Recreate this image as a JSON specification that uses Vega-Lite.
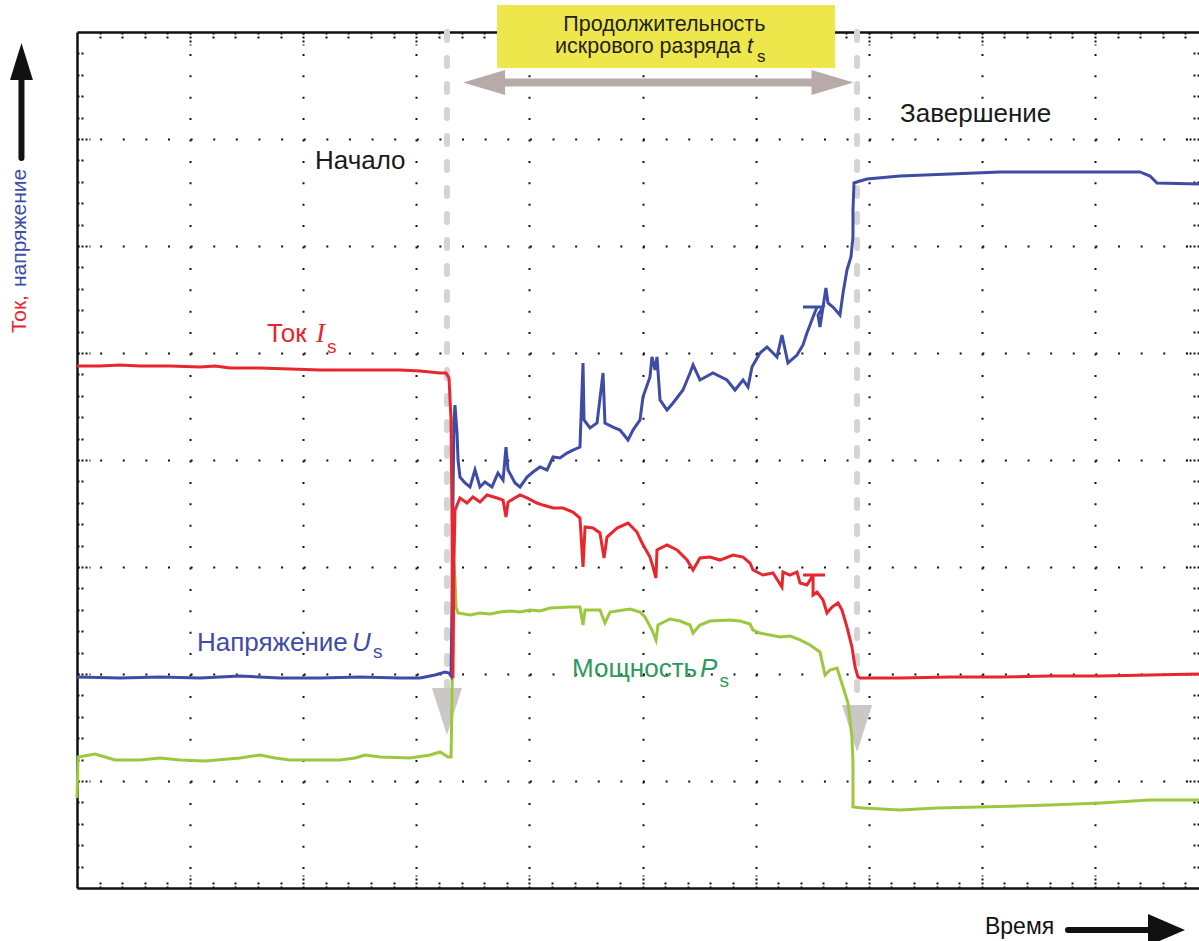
{
  "$schema": "https://vega.github.io/schema/vega-lite/v6.json",
  "width": 1122,
  "height": 856,
  "autosize": {"type": "none"},
  "padding": {"left": 77, "top": 32, "right": 0, "bottom": 53},
  "background": "white",
  "config": {"view": {"stroke": null}, "font": "Liberation Sans"},
  "resolve": {"axis": {"x": "independent", "y": "independent"}},
  "layer": [
    {
      "data": {"values": [{"t": 3.271, "v": 8.0, "v2": 1.85}, {"t": 6.897, "v": 8.0, "v2": 1.71}]},
      "mark": {"type": "rule", "color": "#d6d3d3", "strokeWidth": 6, "strokeDash": [8, 18], "strokeCap": "round"},
      "encoding": {
        "x": {"field": "t", "type": "quantitative", "scale": {"domain": [0, 9.9204], "nice": false, "zero": false},
          "axis": {"orient": "top", "title": null, "labels": false, "grid": false, "domain": true, "domainColor": "#111", "domainWidth": 2.5,
            "ticks": true, "tickColor": "#111", "tickWidth": 2, "tickDash": [2, 2],
            "tickSize": {"condition": {"test": "abs(datum.value - round(datum.value)) < 0.01", "value": -13}, "value": -8},
            "values": [0.2,0.4,0.6,0.8,1,1.2,1.4,1.6,1.8,2,2.2,2.4,2.6,2.8,3,3.2,3.4,3.6,3.8,4,4.2,4.4,4.6,4.8,5,5.2,5.4,5.6,5.8,6,6.2,6.4,6.6,6.8,7,7.2,7.4,7.6,7.8,8,8.2,8.4,8.6,8.8,9,9.2,9.4,9.6,9.8]}},
        "y": {"field": "v", "type": "quantitative", "scale": {"domain": [0, 8], "nice": false, "zero": false},
          "axis": {"orient": "right", "title": null, "labels": false, "grid": false, "domain": false,
            "ticks": true, "tickColor": "#111", "tickWidth": 2, "tickDash": [2, 2],
            "tickSize": {"condition": {"test": "abs(datum.value - round(datum.value)) < 0.01", "value": -13}, "value": -8},
            "values": [0.2,0.4,0.6,0.8,1,1.2,1.4,1.6,1.8,2,2.2,2.4,2.6,2.8,3,3.2,3.4,3.6,3.8,4,4.2,4.4,4.6,4.8,5,5.2,5.4,5.6,5.8,6,6.2,6.4,6.6,6.8,7,7.2,7.4,7.6,7.8]}},
        "y2": {"field": "v2"}
      }
    },
    {
      "data": {"values": [{"t": 3.271, "v": 1.650}, {"t": 6.897, "v": 1.491}]},
      "mark": {"type": "point", "shape": "M-0.64,-1L0.64,-1L0,1Z", "filled": true, "color": "#cbc7c7", "opacity": 1, "size": 2209, "strokeWidth": 0},
      "encoding": {
        "x": {"field": "t", "type": "quantitative", "axis": null},
        "y": {"field": "v", "type": "quantitative", "axis": null}
      }
    },
    {
      "data": {"values": [
        {"s":"P","t":0,"v":0.841},{"s":"P","t":0.009,"v":1.224},{"s":"P","t":0.159,"v":1.252},{"s":"P","t":0.248,"v":1.224},{"s":"P","t":0.336,"v":1.196},{"s":"P","t":0.557,"v":1.196},{"s":"P","t":0.734,"v":1.215},{"s":"P","t":0.911,"v":1.196},{"s":"P","t":1.132,"v":1.187},{"s":"P","t":1.441,"v":1.215},{"s":"P","t":1.618,"v":1.243},{"s":"P","t":1.751,"v":1.215},{"s":"P","t":1.883,"v":1.196},{"s":"P","t":2.325,"v":1.196},{"s":"P","t":2.458,"v":1.215},{"s":"P","t":2.546,"v":1.243},{"s":"P","t":2.679,"v":1.224},{"s":"P","t":2.944,"v":1.215},{"s":"P","t":3.121,"v":1.243},{"s":"P","t":3.21,"v":1.271},{"s":"P","t":3.28,"v":1.224},{"s":"P","t":3.307,"v":1.224},{"s":"P","t":3.316,"v":1.757},{"s":"P","t":3.324,"v":3.14},{"s":"P","t":3.342,"v":2.879},{"s":"P","t":3.351,"v":2.626},{"s":"P","t":3.369,"v":2.57},{"s":"P","t":3.475,"v":2.551},{"s":"P","t":3.563,"v":2.57},{"s":"P","t":3.652,"v":2.561},{"s":"P","t":3.74,"v":2.579},{"s":"P","t":3.828,"v":2.589},{"s":"P","t":3.917,"v":2.579},{"s":"P","t":4.005,"v":2.598},{"s":"P","t":4.094,"v":2.589},{"s":"P","t":4.182,"v":2.617},{"s":"P","t":4.359,"v":2.626},{"s":"P","t":4.447,"v":2.626},{"s":"P","t":4.474,"v":2.458},{"s":"P","t":4.492,"v":2.598},{"s":"P","t":4.624,"v":2.598},{"s":"P","t":4.668,"v":2.477},{"s":"P","t":4.713,"v":2.579},{"s":"P","t":4.889,"v":2.607},{"s":"P","t":4.978,"v":2.579},{"s":"P","t":5.022,"v":2.533},{"s":"P","t":5.084,"v":2.411},{"s":"P","t":5.119,"v":2.318},{"s":"P","t":5.137,"v":2.458},{"s":"P","t":5.243,"v":2.514},{"s":"P","t":5.332,"v":2.495},{"s":"P","t":5.42,"v":2.458},{"s":"P","t":5.447,"v":2.383},{"s":"P","t":5.508,"v":2.458},{"s":"P","t":5.597,"v":2.495},{"s":"P","t":5.774,"v":2.505},{"s":"P","t":5.862,"v":2.495},{"s":"P","t":5.951,"v":2.467},{"s":"P","t":5.977,"v":2.411},{"s":"P","t":6.039,"v":2.383},{"s":"P","t":6.127,"v":2.364},{"s":"P","t":6.216,"v":2.346},{"s":"P","t":6.304,"v":2.355},{"s":"P","t":6.393,"v":2.318},{"s":"P","t":6.481,"v":2.271},{"s":"P","t":6.569,"v":2.206},{"s":"P","t":6.614,"v":1.991},{"s":"P","t":6.658,"v":2.037},{"s":"P","t":6.72,"v":2.056},{"s":"P","t":6.773,"v":1.879},{"s":"P","t":6.817,"v":1.729},{"s":"P","t":6.852,"v":1.411},{"s":"P","t":6.861,"v":1.168},{"s":"P","t":6.861,"v":0.757},{"s":"P","t":6.95,"v":0.748},{"s":"P","t":7.277,"v":0.729},{"s":"P","t":7.604,"v":0.748},{"s":"P","t":7.984,"v":0.757},{"s":"P","t":8.603,"v":0.776},{"s":"P","t":9.045,"v":0.794},{"s":"P","t":9.487,"v":0.822},{"s":"P","t":9.92,"v":0.822},
        {"s":"U","t":0,"v":1.972},{"s":"U","t":0.38,"v":1.963},{"s":"U","t":0.734,"v":1.972},{"s":"U","t":1.088,"v":1.963},{"s":"U","t":1.441,"v":1.981},{"s":"U","t":1.795,"v":1.963},{"s":"U","t":2.149,"v":1.963},{"s":"U","t":2.502,"v":1.972},{"s":"U","t":2.856,"v":1.963},{"s":"U","t":3.033,"v":1.963},{"s":"U","t":3.165,"v":1.991},{"s":"U","t":3.254,"v":2.019},{"s":"U","t":3.289,"v":2.009},{"s":"U","t":3.307,"v":1.981},{"s":"U","t":3.316,"v":2.692},{"s":"U","t":3.324,"v":3.626},{"s":"U","t":3.333,"v":4.374},{"s":"U","t":3.342,"v":4.514},{"s":"U","t":3.36,"v":4.252},{"s":"U","t":3.369,"v":4.0},{"s":"U","t":3.386,"v":3.841},{"s":"U","t":3.431,"v":3.785},{"s":"U","t":3.475,"v":3.748},{"s":"U","t":3.519,"v":3.907},{"s":"U","t":3.563,"v":3.748},{"s":"U","t":3.607,"v":3.794},{"s":"U","t":3.669,"v":3.748},{"s":"U","t":3.722,"v":3.879},{"s":"U","t":3.767,"v":3.813},{"s":"U","t":3.793,"v":4.121},{"s":"U","t":3.811,"v":3.907},{"s":"U","t":3.873,"v":3.785},{"s":"U","t":3.917,"v":3.748},{"s":"U","t":3.979,"v":3.841},{"s":"U","t":4.032,"v":3.888},{"s":"U","t":4.094,"v":3.935},{"s":"U","t":4.156,"v":3.907},{"s":"U","t":4.209,"v":4.028},{"s":"U","t":4.271,"v":4.019},{"s":"U","t":4.332,"v":4.065},{"s":"U","t":4.385,"v":4.093},{"s":"U","t":4.447,"v":4.121},{"s":"U","t":4.474,"v":4.907},{"s":"U","t":4.483,"v":4.374},{"s":"U","t":4.536,"v":4.299},{"s":"U","t":4.598,"v":4.346},{"s":"U","t":4.651,"v":4.813},{"s":"U","t":4.668,"v":4.346},{"s":"U","t":4.739,"v":4.308},{"s":"U","t":4.801,"v":4.28},{"s":"U","t":4.872,"v":4.187},{"s":"U","t":4.916,"v":4.28},{"s":"U","t":4.978,"v":4.374},{"s":"U","t":5.004,"v":4.589},{"s":"U","t":5.066,"v":4.776},{"s":"U","t":5.084,"v":4.963},{"s":"U","t":5.111,"v":4.841},{"s":"U","t":5.128,"v":4.963},{"s":"U","t":5.155,"v":4.561},{"s":"U","t":5.217,"v":4.467},{"s":"U","t":5.27,"v":4.533},{"s":"U","t":5.358,"v":4.654},{"s":"U","t":5.42,"v":4.813},{"s":"U","t":5.447,"v":4.888},{"s":"U","t":5.508,"v":4.748},{"s":"U","t":5.623,"v":4.813},{"s":"U","t":5.747,"v":4.748},{"s":"U","t":5.818,"v":4.654},{"s":"U","t":5.889,"v":4.748},{"s":"U","t":5.933,"v":4.682},{"s":"U","t":5.968,"v":4.869},{"s":"U","t":6.039,"v":5.0},{"s":"U","t":6.101,"v":5.056},{"s":"U","t":6.189,"v":4.963},{"s":"U","t":6.233,"v":5.168},{"s":"U","t":6.286,"v":4.907},{"s":"U","t":6.366,"v":4.981},{"s":"U","t":6.419,"v":5.075},{"s":"U","t":6.454,"v":5.187},{"s":"U","t":6.508,"v":5.336},{"s":"U","t":6.543,"v":5.43},{"s":"U","t":6.419,"v":5.43},{"s":"U","t":6.596,"v":5.43},{"s":"U","t":6.552,"v":5.355},{"s":"U","t":6.569,"v":5.243},{"s":"U","t":6.622,"v":5.607},{"s":"U","t":6.64,"v":5.467},{"s":"U","t":6.684,"v":5.43},{"s":"U","t":6.746,"v":5.355},{"s":"U","t":6.773,"v":5.561},{"s":"U","t":6.808,"v":5.776},{"s":"U","t":6.843,"v":5.897},{"s":"U","t":6.861,"v":6.084},{"s":"U","t":6.861,"v":6.336},{"s":"U","t":6.87,"v":6.589},{"s":"U","t":6.923,"v":6.607},{"s":"U","t":6.985,"v":6.626},{"s":"U","t":7.277,"v":6.654},{"s":"U","t":7.719,"v":6.673},{"s":"U","t":8.161,"v":6.692},{"s":"U","t":9.399,"v":6.692},{"s":"U","t":9.487,"v":6.654},{"s":"U","t":9.549,"v":6.589},{"s":"U","t":9.92,"v":6.579},
        {"s":"I","t":0,"v":4.879},{"s":"I","t":0.203,"v":4.879},{"s":"I","t":0.38,"v":4.888},{"s":"I","t":0.557,"v":4.879},{"s":"I","t":0.822,"v":4.879},{"s":"I","t":1.088,"v":4.869},{"s":"I","t":1.22,"v":4.879},{"s":"I","t":1.353,"v":4.86},{"s":"I","t":1.618,"v":4.86},{"s":"I","t":1.883,"v":4.85},{"s":"I","t":2.149,"v":4.841},{"s":"I","t":2.502,"v":4.841},{"s":"I","t":2.856,"v":4.841},{"s":"I","t":3.033,"v":4.832},{"s":"I","t":3.121,"v":4.822},{"s":"I","t":3.21,"v":4.813},{"s":"I","t":3.263,"v":4.813},{"s":"I","t":3.289,"v":4.766},{"s":"I","t":3.307,"v":4.374},{"s":"I","t":3.316,"v":3.439},{"s":"I","t":3.324,"v":1.963},{"s":"I","t":3.333,"v":3.065},{"s":"I","t":3.342,"v":3.533},{"s":"I","t":3.386,"v":3.645},{"s":"I","t":3.448,"v":3.598},{"s":"I","t":3.501,"v":3.654},{"s":"I","t":3.563,"v":3.607},{"s":"I","t":3.625,"v":3.673},{"s":"I","t":3.714,"v":3.645},{"s":"I","t":3.767,"v":3.626},{"s":"I","t":3.793,"v":3.467},{"s":"I","t":3.811,"v":3.607},{"s":"I","t":3.917,"v":3.673},{"s":"I","t":3.979,"v":3.645},{"s":"I","t":4.067,"v":3.598},{"s":"I","t":4.12,"v":3.579},{"s":"I","t":4.209,"v":3.551},{"s":"I","t":4.297,"v":3.551},{"s":"I","t":4.385,"v":3.514},{"s":"I","t":4.447,"v":3.458},{"s":"I","t":4.474,"v":3.0},{"s":"I","t":4.492,"v":3.374},{"s":"I","t":4.562,"v":3.364},{"s":"I","t":4.624,"v":3.318},{"s":"I","t":4.66,"v":3.084},{"s":"I","t":4.686,"v":3.28},{"s":"I","t":4.775,"v":3.364},{"s":"I","t":4.872,"v":3.411},{"s":"I","t":4.951,"v":3.327},{"s":"I","t":4.996,"v":3.224},{"s":"I","t":5.066,"v":3.093},{"s":"I","t":5.093,"v":3.0},{"s":"I","t":5.119,"v":2.897},{"s":"I","t":5.128,"v":3.159},{"s":"I","t":5.217,"v":3.206},{"s":"I","t":5.305,"v":3.159},{"s":"I","t":5.394,"v":3.065},{"s":"I","t":5.447,"v":2.972},{"s":"I","t":5.508,"v":3.084},{"s":"I","t":5.597,"v":3.093},{"s":"I","t":5.685,"v":3.065},{"s":"I","t":5.8,"v":3.112},{"s":"I","t":5.889,"v":3.093},{"s":"I","t":5.951,"v":3.037},{"s":"I","t":5.977,"v":2.972},{"s":"I","t":6.065,"v":2.925},{"s":"I","t":6.154,"v":2.944},{"s":"I","t":6.233,"v":2.813},{"s":"I","t":6.242,"v":2.953},{"s":"I","t":6.304,"v":2.925},{"s":"I","t":6.366,"v":2.953},{"s":"I","t":6.393,"v":2.85},{"s":"I","t":6.454,"v":2.832},{"s":"I","t":6.508,"v":2.925},{"s":"I","t":6.419,"v":2.925},{"s":"I","t":6.614,"v":2.925},{"s":"I","t":6.508,"v":2.925},{"s":"I","t":6.508,"v":2.738},{"s":"I","t":6.543,"v":2.766},{"s":"I","t":6.596,"v":2.692},{"s":"I","t":6.631,"v":2.57},{"s":"I","t":6.676,"v":2.626},{"s":"I","t":6.729,"v":2.664},{"s":"I","t":6.764,"v":2.598},{"s":"I","t":6.808,"v":2.439},{"s":"I","t":6.852,"v":2.252},{"s":"I","t":6.879,"v":2.065},{"s":"I","t":6.905,"v":1.972},{"s":"I","t":6.923,"v":1.963},{"s":"I","t":7.277,"v":1.963},{"s":"I","t":7.719,"v":1.972},{"s":"I","t":8.161,"v":1.972},{"s":"I","t":8.603,"v":1.981},{"s":"I","t":9.045,"v":1.981},{"s":"I","t":9.487,"v":1.991},{"s":"I","t":9.92,"v":2.0}
      ]},
      "transform": [{"window": [{"op": "row_number", "as": "idx"}], "groupby": ["s"]}],
      "mark": {"type": "line", "strokeWidth": 3, "interpolate": "linear"},
      "encoding": {
        "x": {"field": "t", "type": "quantitative",
          "axis": {"orient": "bottom", "title": null, "labels": false, "domain": true, "domainColor": "#111", "domainWidth": 2.5,
            "ticks": true, "tickColor": "#111", "tickWidth": 2, "tickDash": [2, 2],
            "tickSize": {"condition": {"test": "abs(datum.value - round(datum.value)) < 0.01", "value": -13}, "value": -8},
            "grid": true, "gridColor": "#111", "gridWidth": 2, "gridDash": [2, 19.4],
            "gridOpacity": {"condition": {"test": "abs(datum.value - round(datum.value)) < 0.01", "value": 1}, "value": 0},
            "values": [0.2,0.4,0.6,0.8,1,1.2,1.4,1.6,1.8,2,2.2,2.4,2.6,2.8,3,3.2,3.4,3.6,3.8,4,4.2,4.4,4.6,4.8,5,5.2,5.4,5.6,5.8,6,6.2,6.4,6.6,6.8,7,7.2,7.4,7.6,7.8,8,8.2,8.4,8.6,8.8,9,9.2,9.4,9.6,9.8]}},
        "y": {"field": "v", "type": "quantitative",
          "axis": {"orient": "left", "title": null, "labels": false, "domain": true, "domainColor": "#111", "domainWidth": 2.5,
            "ticks": true, "tickColor": "#111", "tickWidth": 2, "tickDash": [2, 2],
            "tickSize": {"condition": {"test": "abs(datum.value - round(datum.value)) < 0.01", "value": -13}, "value": -8},
            "grid": true, "gridColor": "#111", "gridWidth": 2, "gridDash": [2, 20.62],
            "gridOpacity": {"condition": {"test": "abs(datum.value - round(datum.value)) < 0.01", "value": 1}, "value": 0},
            "values": [0.2,0.4,0.6,0.8,1,1.2,1.4,1.6,1.8,2,2.2,2.4,2.6,2.8,3,3.2,3.4,3.6,3.8,4,4.2,4.4,4.6,4.8,5,5.2,5.4,5.6,5.8,6,6.2,6.4,6.6,6.8,7,7.2,7.4,7.6,7.8]}},
        "color": {"field": "s", "type": "nominal", "legend": null,
          "scale": {"domain": ["I", "U", "P", "Pt", "K"], "range": ["#e8262d", "#3f4ca7", "#9dc73e", "#2c9a5c", "#1a1a1a"]}},
        "order": {"field": "idx", "type": "quantitative"}
      }
    },
    {
      "data": {"values": [{"t": 3.714, "t2": 6.569, "v": 7.528}]},
      "mark": {"type": "rule", "color": "#b7aaa8", "strokeWidth": 8},
      "encoding": {
        "x": {"field": "t", "type": "quantitative", "axis": null},
        "x2": {"field": "t2"},
        "y": {"field": "v", "type": "quantitative", "axis": null}
      }
    },
    {
      "data": {"values": [{"t": 3.599, "v": 7.528}]},
      "mark": {"type": "point", "shape": "M-1,0L1,-0.6L1,0.6Z", "filled": true, "color": "#b7aaa8", "opacity": 1, "size": 1764, "strokeWidth": 0},
      "encoding": {
        "x": {"field": "t", "type": "quantitative", "axis": null},
        "y": {"field": "v", "type": "quantitative", "axis": null}
      }
    },
    {
      "data": {"values": [{"t": 6.68, "v": 7.528}]},
      "mark": {"type": "point", "shape": "M1,0L-1,-0.6L-1,0.6Z", "filled": true, "color": "#b7aaa8", "opacity": 1, "size": 1764, "strokeWidth": 0},
      "encoding": {
        "x": {"field": "t", "type": "quantitative", "axis": null},
        "y": {"field": "v", "type": "quantitative", "axis": null}
      }
    },
    {
      "data": {"values": [{"t": 3.714, "t2": 6.702, "v": 8.252, "v2": 7.664}]},
      "mark": {"type": "rect", "color": "#eee74b"},
      "encoding": {
        "x": {"field": "t", "type": "quantitative", "axis": null},
        "x2": {"field": "t2"},
        "y": {"field": "v", "type": "quantitative", "axis": null},
        "y2": {"field": "v2"}
      }
    },
    {
      "data": {"values": [{"t": 4.3, "v": 8.009, "label": "Продолжительность"}]},
      "mark": {"type": "text", "align": "left", "baseline": "alphabetic", "font": "Liberation Sans", "fontSize": 21.5, "color": "#222"},
      "encoding": {
        "x": {"field": "t", "type": "quantitative", "axis": null},
        "y": {"field": "v", "type": "quantitative", "axis": null},
        "text": {"field": "label"}
      }
    },
    {
      "data": {"values": [{"t": 5.871, "v": 7.804, "label": "искрового разряда"}]},
      "mark": {"type": "text", "align": "right", "baseline": "alphabetic", "font": "Liberation Sans", "fontSize": 21.5, "color": "#222"},
      "encoding": {
        "x": {"field": "t", "type": "quantitative", "axis": null},
        "y": {"field": "v", "type": "quantitative", "axis": null},
        "text": {"field": "label"}
      }
    },
    {
      "data": {"values": [{"t": 5.924, "v": 7.804, "label": "t"}]},
      "mark": {"type": "text", "align": "left", "baseline": "alphabetic", "font": "Liberation Sans", "fontStyle": "italic", "fontSize": 21.5, "color": "#222"},
      "encoding": {
        "x": {"field": "t", "type": "quantitative", "axis": null},
        "y": {"field": "v", "type": "quantitative", "axis": null},
        "text": {"field": "label"}
      }
    },
    {
      "data": {"values": [{"t": 6.012, "v": 7.72, "label": "s"}]},
      "mark": {"type": "text", "align": "left", "baseline": "alphabetic", "font": "Liberation Sans", "fontSize": 17, "color": "#222"},
      "encoding": {
        "x": {"field": "t", "type": "quantitative", "axis": null},
        "y": {"field": "v", "type": "quantitative", "axis": null},
        "text": {"field": "label"}
      }
    },
    {
      "data": {"values": [
        {"t": 2.104, "v": 6.72, "label": "Начало", "s": "K"},
        {"t": 7.277, "v": 7.159, "label": "Завершение", "s": "K"},
        {"t": 1.68, "v": 5.103, "label": "Ток", "s": "I"},
        {"t": 1.061, "v": 2.215, "label": "Напряжение", "s": "U"},
        {"t": 4.377, "v": 1.972, "label": "Мощность", "s": "Pt"}
      ]},
      "mark": {"type": "text", "align": "left", "baseline": "alphabetic", "font": "Liberation Sans", "fontSize": 26},
      "encoding": {
        "x": {"field": "t", "type": "quantitative", "axis": null},
        "y": {"field": "v", "type": "quantitative", "axis": null},
        "text": {"field": "label"},
        "color": {"field": "s", "type": "nominal", "legend": null}
      }
    },
    {
      "data": {"values": [
        {"t": 2.431, "v": 2.215, "label": "U", "s": "U"},
        {"t": 5.508, "v": 1.972, "label": "P", "s": "Pt"}
      ]},
      "mark": {"type": "text", "align": "left", "baseline": "alphabetic", "font": "Liberation Sans", "fontStyle": "italic", "fontSize": 26},
      "encoding": {
        "x": {"field": "t", "type": "quantitative", "axis": null},
        "y": {"field": "v", "type": "quantitative", "axis": null},
        "text": {"field": "label"},
        "color": {"field": "s", "type": "nominal", "legend": null}
      }
    },
    {
      "data": {"values": [{"t": 2.113, "v": 5.103, "label": "I", "s": "I"}]},
      "mark": {"type": "text", "align": "left", "baseline": "alphabetic", "font": "Liberation Serif", "fontStyle": "italic", "fontSize": 27},
      "encoding": {
        "x": {"field": "t", "type": "quantitative", "axis": null},
        "y": {"field": "v", "type": "quantitative", "axis": null},
        "text": {"field": "label"},
        "color": {"field": "s", "type": "nominal", "legend": null}
      }
    },
    {
      "data": {"values": [
        {"t": 2.21, "v": 5.0, "label": "s", "s": "I"},
        {"t": 2.617, "v": 2.15, "label": "s", "s": "U"},
        {"t": 5.68, "v": 1.879, "label": "s", "s": "Pt"}
      ]},
      "mark": {"type": "text", "align": "left", "baseline": "alphabetic", "font": "Liberation Sans", "fontSize": 19},
      "encoding": {
        "x": {"field": "t", "type": "quantitative", "axis": null},
        "y": {"field": "v", "type": "quantitative", "axis": null},
        "text": {"field": "label"},
        "color": {"field": "s", "type": "nominal", "legend": null}
      }
    },
    {
      "data": {"values": [
        {"t": -0.504, "v": 5.187, "label": "Ток,", "s": "I"},
        {"t": -0.504, "v": 5.617, "label": "напряжение", "s": "U"}
      ]},
      "mark": {"type": "text", "align": "left", "baseline": "middle", "angle": 270, "font": "Liberation Sans", "fontSize": 21},
      "encoding": {
        "x": {"field": "t", "type": "quantitative", "axis": null},
        "y": {"field": "v", "type": "quantitative", "axis": null},
        "text": {"field": "label"},
        "color": {"field": "s", "type": "nominal", "legend": null}
      }
    },
    {
      "data": {"values": [{"t": -0.491, "v": 7.57, "v2": 6.822}]},
      "mark": {"type": "rule", "color": "#111", "strokeWidth": 6, "strokeCap": "round"},
      "encoding": {
        "x": {"field": "t", "type": "quantitative", "axis": null},
        "y": {"field": "v", "type": "quantitative", "axis": null},
        "y2": {"field": "v2"}
      }
    },
    {
      "data": {"values": [{"t": -0.491, "v": 7.724}]},
      "mark": {"type": "point", "shape": "M0,-1L0.62,1L-0.62,1Z", "filled": true, "color": "#111", "opacity": 1, "size": 1369, "strokeWidth": 0},
      "encoding": {
        "x": {"field": "t", "type": "quantitative", "axis": null},
        "y": {"field": "v", "type": "quantitative", "axis": null}
      }
    },
    {
      "data": {"values": [{"t": 8.762, "t2": 9.531, "v": -0.3925}]},
      "mark": {"type": "rule", "color": "#111", "strokeWidth": 6, "strokeCap": "round"},
      "encoding": {
        "x": {"field": "t", "type": "quantitative", "axis": null},
        "x2": {"field": "t2"},
        "y": {"field": "v", "type": "quantitative", "axis": null}
      }
    },
    {
      "data": {"values": [{"t": 9.633, "v": -0.3925}]},
      "mark": {"type": "point", "shape": "M1,0L-1,-0.86L-1,0.86Z", "filled": true, "color": "#111", "opacity": 1, "size": 1369, "strokeWidth": 0},
      "encoding": {
        "x": {"field": "t", "type": "quantitative", "axis": null},
        "y": {"field": "v", "type": "quantitative", "axis": null}
      }
    },
    {
      "data": {"values": [{"t": 8.028, "v": -0.43, "label": "Время"}]},
      "mark": {"type": "text", "align": "left", "baseline": "alphabetic", "font": "Liberation Sans", "fontSize": 23, "color": "#111"},
      "encoding": {
        "x": {"field": "t", "type": "quantitative", "axis": null},
        "y": {"field": "v", "type": "quantitative", "axis": null},
        "text": {"field": "label"}
      }
    }
  ]
}
